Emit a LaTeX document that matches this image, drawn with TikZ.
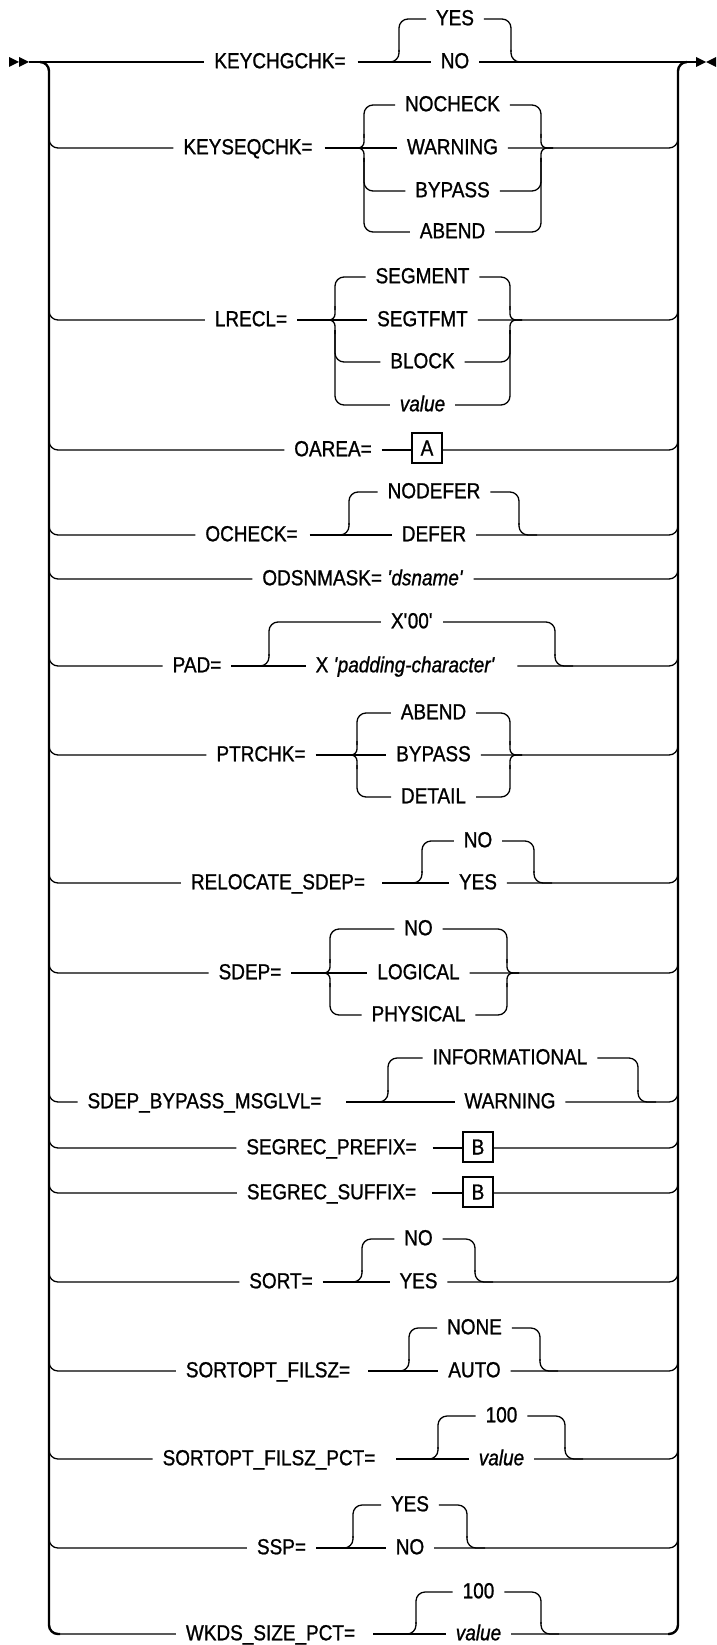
\documentclass[tikz,border=0pt]{standalone}
\usepackage{fontspec}
\setmainfont{Liberation Sans}[FakeStretch=0.87,FakeBold=1.0]
\newcommand\rr{\fontsize{21.8pt}{25pt}\selectfont}
\newcommand\sq{\textquotesingle}
\tikzset{
  ln/.style={line width=1.3pt},
  rail/.style={line width=2.4pt},
  rc/.style={rounded corners=9pt},
  kw/.style={inner sep=0pt, outer xsep=10pt, text height=14.5pt, text depth=2pt, font=\rr},
  it/.style={kw, font=\rr\itshape},
  refbox/.style={draw, line width=1.3pt, minimum size=30pt, inner sep=0pt, outer sep=0pt, font=\rr},
}
% bracket for one non-main option: L, R, start y, node
\newcommand\brk[4]{%
  \draw[ln,rc] (#1,#3) |- (#4.west);
  \draw[ln,rc] (#4.east) -| (#2,#3);}
% junction when main option is the bottom one
\newcommand\joinbot[3]{%
  \draw[ln,rc] (#1-18,#3) -| (#1,#3-12);
  \draw[ln,rc] (#2,#3-12) |- (#2+18,#3);}
% brace cusp when main option is in the middle
\newcommand\joinmid[3]{%
  \draw[ln,rounded corners=6pt] (#1,#3-14) |- (#1-12,#3);
  \draw[ln,rounded corners=6pt] (#1,#3+14) |- (#1-12,#3);
  \draw[ln,rounded corners=6pt] (#2,#3-14) |- (#2+12,#3);
  \draw[ln,rounded corners=6pt] (#2,#3+14) |- (#2+12,#3);}
\newcommand\rowL[2]{\draw[ln,rc] (49,#1-20) |- (#2.west);}
\newcommand\rowR[2]{\draw[ln,rc] (#1.east) -| (678,#2-20);}
\begin{document}
\begin{tikzpicture}[x=1pt,y=-1pt]
\useasboundingbox (0,0) rectangle (716,1645);
% markers
\fill (9,57) -- (19,62) -- (9,67) -- cycle;
\fill (19,57) -- (29,62) -- (19,67) -- cycle;
\fill (696,57) -- (706,62) -- (696,67) -- cycle;
\fill (716,57) -- (706,62) -- (716,67) -- cycle;
\coordinate (start) at (29,62);
\coordinate (endm) at (696,62);
% rails
\draw[rail,rc] (40,62) -| (49,1634) -- (60,1634);
\draw[rail,rc] (668,1634) -| (678,62) -- (687,62);

% row 1
\node[kw] (k1) at (280,62) {KEYCHGCHK=};
\node[kw] (o1a) at (455,19) {YES};
\node[kw] (o1b) at (455,62) {NO};
\draw[ln] (start) -- (k1.west);
\draw[ln] ([xshift=2pt]k1.east) -- (o1b.west);
\draw[ln] (o1b.east) -- (endm);
\joinbot{399}{511}{62}
\brk{399}{511}{52}{o1a}

% row 2
\node[kw] (k2) at (248,148) {KEYSEQCHK=};
\node[kw] (o2a) at (452.5,105) {NOCHECK};
\node[kw] (o2b) at (452.5,148) {WARNING};
\node[kw] (o2c) at (452.5,191) {BYPASS};
\node[kw] (o2d) at (452.5,232) {ABEND};
\rowL{148}{k2}
\draw[ln] ([xshift=2pt]k2.east) -- (o2b.west);
\rowR{o2b}{148}
\joinmid{364}{541}{148}
\brk{364}{541}{138}{o2a}
\brk{364}{541}{158}{o2c}
\brk{364}{541}{158}{o2d}

% row 3
\node[kw] (k3) at (251,320) {LRECL=};
\node[kw] (o3a) at (422.5,277) {SEGMENT};
\node[kw] (o3b) at (422.5,320) {SEGTFMT};
\node[kw] (o3c) at (422.5,362) {BLOCK};
\node[it] (o3d) at (422.5,405) {value};
\rowL{320}{k3}
\draw[ln] (k3.east) -- (o3b.west);
\rowR{o3b}{320}
\joinmid{335}{510}{320}
\brk{335}{510}{310}{o3a}
\brk{335}{510}{330}{o3c}
\brk{335}{510}{330}{o3d}

% row 4
\node[kw] (k4) at (333,450) {OAREA=};
\node[refbox] (bA) at (427,448) {A};
\rowL{450}{k4}
\draw[ln] (k4.east) -- (bA.west |- k4.east);
\draw[ln,rc] (bA.east |- k4.east) -| (678,430);

% row 5
\node[kw] (k5) at (251.5,535) {OCHECK=};
\node[kw] (o5a) at (434,492) {NODEFER};
\node[kw] (o5b) at (434,535) {DEFER};
\rowL{535}{k5}
\draw[ln] ([xshift=2pt]k5.east) -- (o5b.west);
\rowR{o5b}{535}
\joinbot{349}{519}{535}
\brk{349}{519}{525}{o5a}

% row 6
\node[kw] (k6) at (363,579) {ODSNMASK= \textit{\sq dsname\sq}};
\rowL{579}{k6}
\rowR{k6}{579}

% row 7
\node[kw] (k7) at (197,666) {PAD=};
\node[kw] (o7a) at (412,622) {X\sq 00\sq};
\node[kw] (o7b) at (405.5,666) {X \textit{\sq padding-character\sq}};
\rowL{666}{k7}
\draw[ln] (k7.east) -- (o7b.west);
\draw[ln,rc] ([xshift=12pt]o7b.east) -| (678,646);
\joinbot{269}{555}{666}
\brk{269}{555}{656}{o7a}

% row 8
\node[kw] (k8) at (261,755) {PTRCHK=};
\node[kw] (o8a) at (433.5,713) {ABEND};
\node[kw] (o8b) at (433.5,755) {BYPASS};
\node[kw] (o8c) at (433.5,797) {DETAIL};
\rowL{755}{k8}
\draw[ln] (k8.east) -- (o8b.west);
\rowR{o8b}{755}
\joinmid{357}{510}{755}
\brk{357}{510}{745}{o8a}
\brk{357}{510}{765}{o8c}

% row 9
\node[kw] (k9) at (278,883) {RELOCATE\_SDEP=};
\node[kw] (o9a) at (478,841) {NO};
\node[kw] (o9b) at (478,883) {YES};
\rowL{883}{k9}
\draw[ln] ([xshift=7pt]k9.east) -- (o9b.west);
\rowR{o9b}{883}
\joinbot{422}{534}{883}
\brk{422}{534}{873}{o9a}

% row 10
\node[kw] (k10) at (250,973) {SDEP=};
\node[kw] (o10a) at (418.5,929) {NO};
\node[kw] (o10b) at (418.5,973) {LOGICAL};
\node[kw] (o10c) at (418.5,1015) {PHYSICAL};
\rowL{973}{k10}
\draw[ln] (k10.east) -- (o10b.west);
\rowR{o10b}{973}
\joinmid{330}{507}{973}
\brk{330}{507}{963}{o10a}
\brk{330}{507}{983}{o10c}

% row 11
\node[kw] (k11) at (204.5,1102) {SDEP\_BYPASS\_MSGLVL=};
\node[kw] (o11a) at (510,1058) {INFORMATIONAL};
\node[kw] (o11b) at (510,1102) {WARNING};
\rowL{1102}{k11}
\draw[ln] ([xshift=15pt]k11.east) -- (o11b.west);
\rowR{o11b}{1102}
\joinbot{388}{638}{1102}
\brk{388}{638}{1092}{o11a}

% row 12
\node[kw] (k12) at (331.5,1148) {SEGREC\_PREFIX=};
\node[refbox] (bB1) at (478,1147) {B};
\rowL{1148}{k12}
\draw[ln] ([xshift=6pt]k12.east) -- (bB1.west |- k12.east);
\draw[ln,rc] (bB1.east |- k12.east) -| (678,1128);

% row 13
\node[kw] (k13) at (331.5,1193) {SEGREC\_SUFFIX=};
\node[refbox] (bB2) at (478,1192) {B};
\rowL{1193}{k13}
\draw[ln] ([xshift=6pt]k13.east) -- (bB2.west |- k13.east);
\draw[ln,rc] (bB2.east |- k13.east) -| (678,1173);

% row 14
\node[kw] (k14) at (281,1282) {SORT=};
\node[kw] (o14a) at (418.5,1239) {NO};
\node[kw] (o14b) at (418.5,1282) {YES};
\rowL{1282}{k14}
\draw[ln] (k14.east) -- (o14b.west);
\rowR{o14b}{1282}
\joinbot{362}{475}{1282}
\brk{362}{475}{1272}{o14a}

% row 15
\node[kw] (k15) at (268,1371) {SORTOPT\_FILSZ=};
\node[kw] (o15a) at (474.5,1328) {NONE};
\node[kw] (o15b) at (474.5,1371) {AUTO};
\rowL{1371}{k15}
\draw[ln] ([xshift=8pt]k15.east) -- (o15b.west);
\rowR{o15b}{1371}
\joinbot{409}{540}{1371}
\brk{409}{540}{1361}{o15a}

% row 16
\node[kw] (k16) at (269,1459) {SORTOPT\_FILSZ\_PCT=};
\node[kw] (o16a) at (501.5,1416) {100};
\node[it] (o16b) at (501.5,1459) {value};
\rowL{1459}{k16}
\draw[ln] ([xshift=11pt]k16.east) -- (o16b.west);
\rowR{o16b}{1459}
\joinbot{438}{565}{1459}
\brk{438}{565}{1449}{o16a}

% row 17
\node[kw] (k17) at (281.5,1548) {SSP=};
\node[kw] (o17a) at (410,1505) {YES};
\node[kw] (o17b) at (410,1548) {NO};
\rowL{1548}{k17}
\draw[ln] (k17.east) -- (o17b.west);
\rowR{o17b}{1548}
\joinbot{353}{467}{1548}
\brk{353}{467}{1538}{o17a}

% row 18
\node[kw] (k18) at (270.5,1634) {WKDS\_SIZE\_PCT=};
\node[kw] (o18a) at (478.5,1592) {100};
\node[it] (o18b) at (478.5,1634) {value};
\rowL{1634}{k18}
\draw[ln] ([xshift=8pt]k18.east) -- (o18b.west);
\rowR{o18b}{1634}
\joinbot{416}{541}{1634}
\brk{416}{541}{1624}{o18a}
\end{tikzpicture}
\end{document}
